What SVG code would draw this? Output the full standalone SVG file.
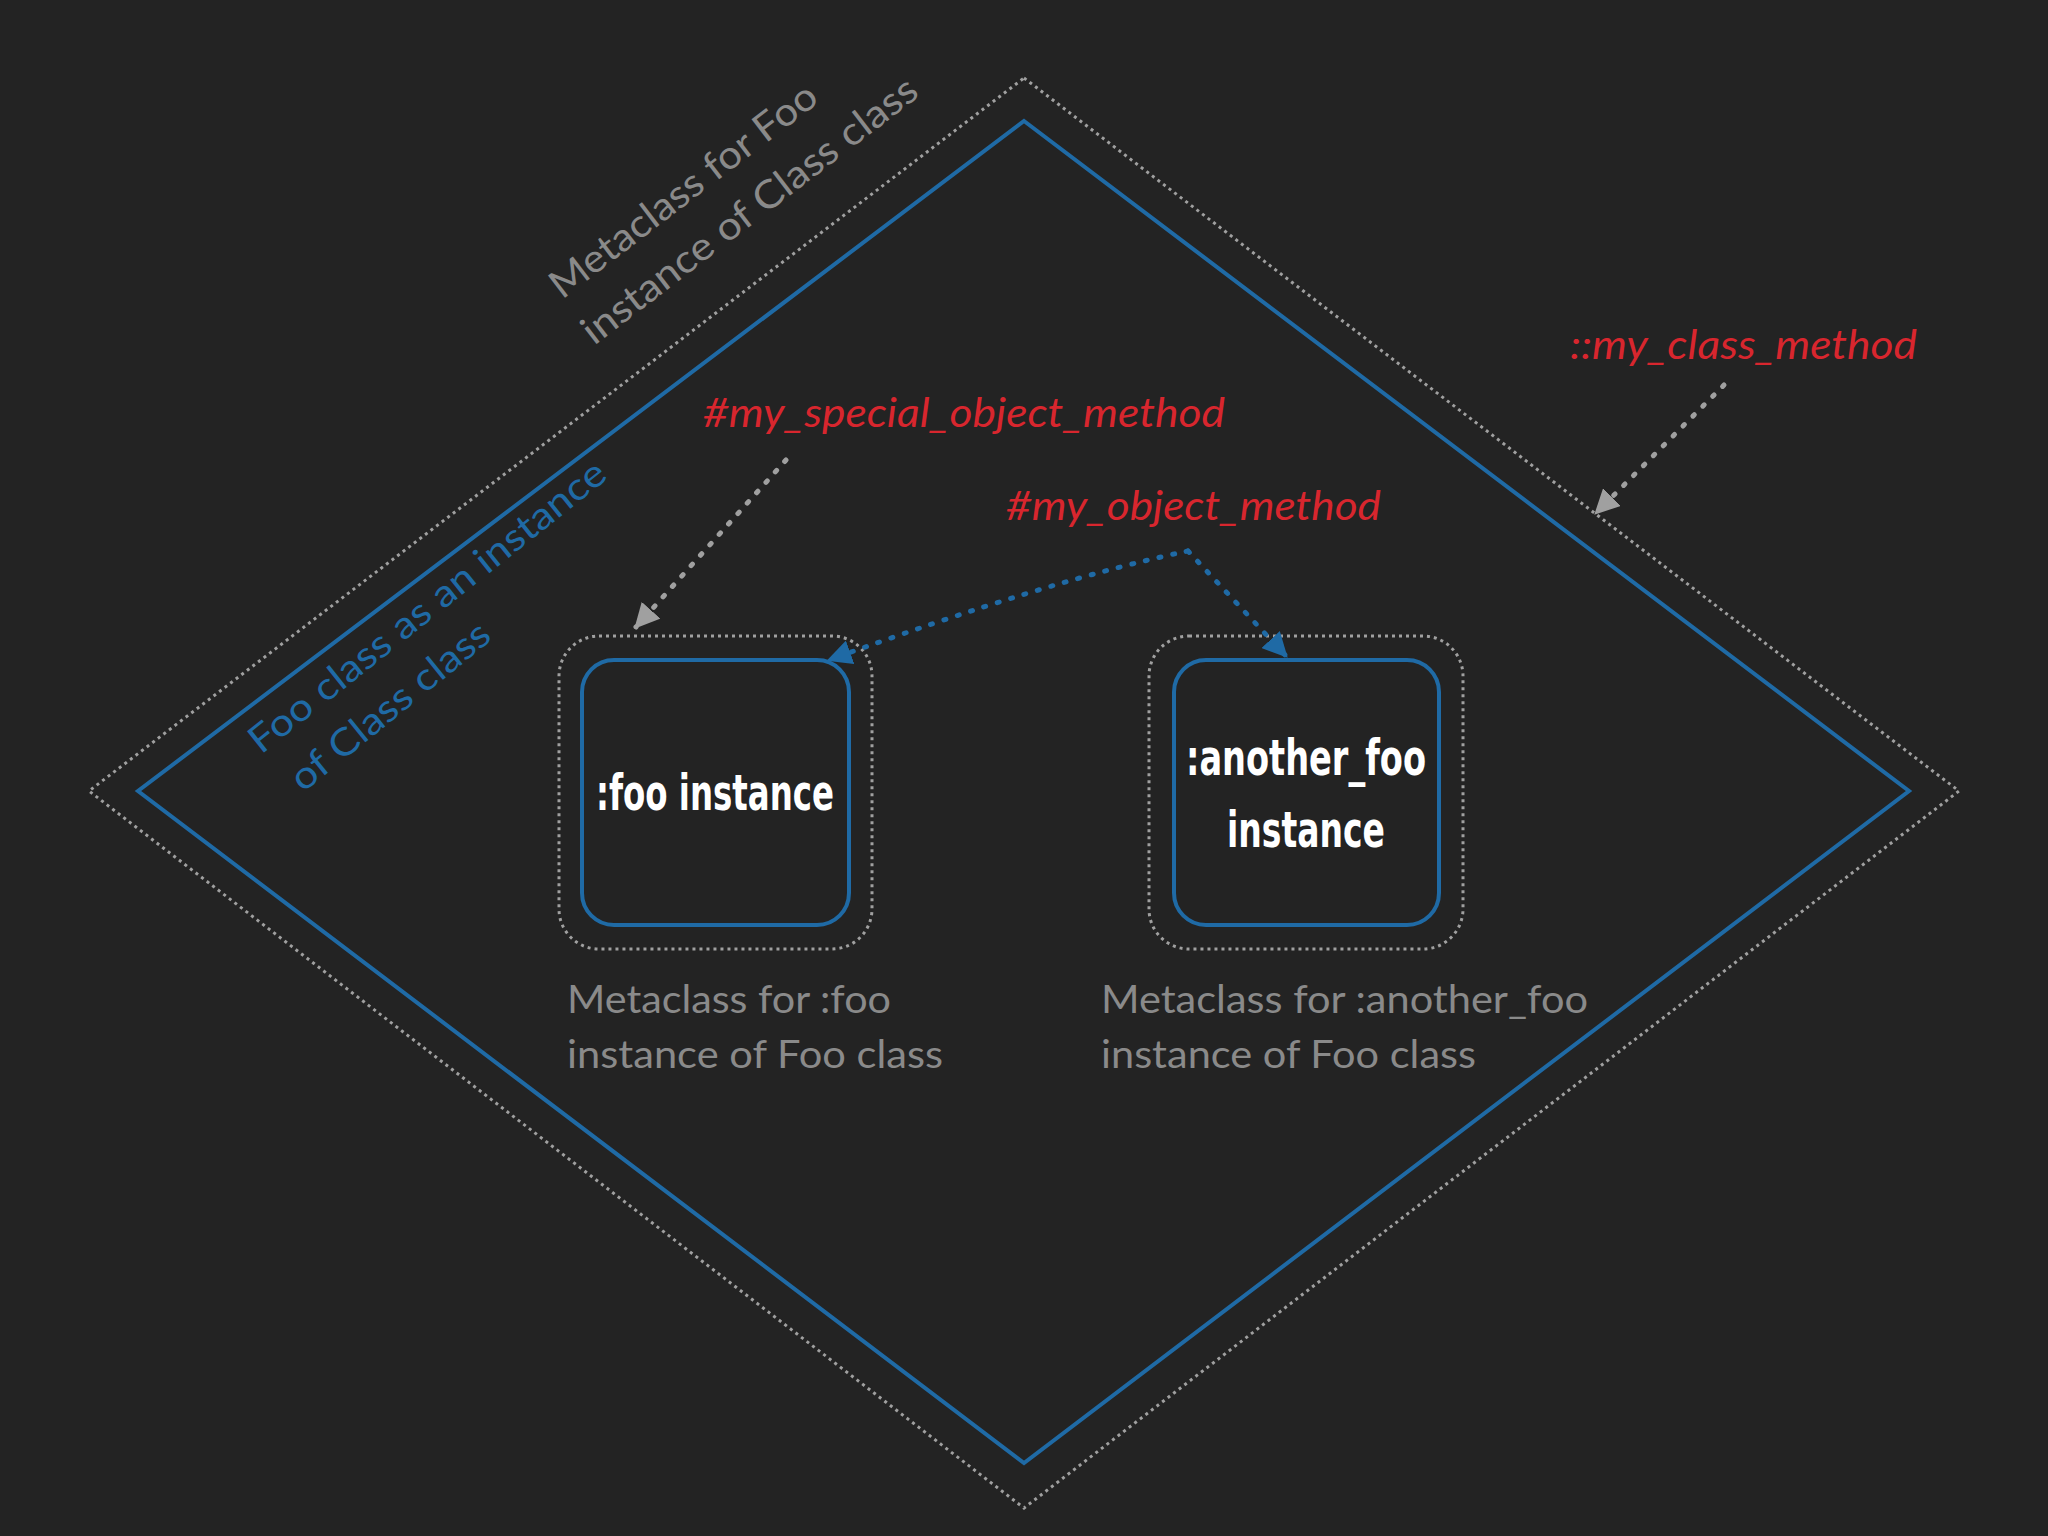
<svg xmlns="http://www.w3.org/2000/svg" width="2048" height="1536" viewBox="0 0 2048 1536">
<defs>
<style>
.dot{fill:none;stroke:#a0a0a0;stroke-width:3;stroke-dasharray:3 4}
.blue{fill:none;stroke:#1f6aa5;stroke-width:4}
.box{fill:#232323;stroke:#1f6aa5;stroke-width:4}
.node{font-family:"DejaVu Sans",sans-serif;font-stretch:condensed;font-weight:bold;font-size:50px;fill:#ffffff;text-anchor:middle}
.lab{font-family:"Lato","Open Sans",sans-serif;font-size:39px;fill:#8a8a8a}
.red{font-family:"Lato","Open Sans",sans-serif;font-style:italic;font-size:40px;fill:#d8262e}
.bl{font-family:"Lato","Open Sans",sans-serif;font-size:38px;fill:#1f6aa5}
.ga{fill:none;stroke:#a0a0a0;stroke-width:5;stroke-dasharray:2 12;stroke-linecap:round}
.ba{fill:none;stroke:#1f6aa5;stroke-width:5;stroke-dasharray:2 12;stroke-linecap:round}
</style>
<marker id="mg" viewBox="0 0 10 10" refX="9" refY="5" markerWidth="5" markerHeight="5" orient="auto" markerUnits="strokeWidth"><path d="M0,0L10,5L0,10z" fill="#a0a0a0"/></marker>
<marker id="mb" viewBox="0 0 10 10" refX="9" refY="5" markerWidth="5" markerHeight="5" orient="auto" markerUnits="strokeWidth"><path d="M0,0L10,5L0,10z" fill="#1f6aa5"/></marker>
</defs>
<rect width="2048" height="1536" fill="#232323"/>
<g id="metaclass-foo">
<polygon class="dot" points="1024,78 1959,791 1024,1508 89,791"/>
<polygon class="blue" points="1024,121 1909,791 1024,1463 138,791"/>
<g transform="translate(562,300) rotate(-37.5)"><text class="lab" x="0" y="0" textLength="326" lengthAdjust="spacingAndGlyphs">Metaclass for Foo</text></g>
<g transform="translate(594,346) rotate(-37.5)"><text class="lab" x="0" y="0" textLength="412" lengthAdjust="spacingAndGlyphs">instance of Class class</text></g>
<g transform="translate(261,755) rotate(-38.5)"><text class="bl" x="0" y="0" textLength="445" lengthAdjust="spacingAndGlyphs">Foo class as an instance</text></g>
<g transform="translate(303,793) rotate(-39)"><text class="bl" x="0" y="0" textLength="245" lengthAdjust="spacingAndGlyphs">of Class class</text></g>
</g>
<g id="foo">
<rect class="dot" x="559" y="636" width="313" height="313" rx="40"/>
<rect class="box" x="582" y="660" width="267" height="265" rx="32"/>
<text class="node" x="715" y="810" textLength="238" lengthAdjust="spacingAndGlyphs">:foo instance</text>
<text class="lab" x="567" y="1013" textLength="324" lengthAdjust="spacingAndGlyphs">Metaclass for :foo</text>
<text class="lab" x="567" y="1068" textLength="376" lengthAdjust="spacingAndGlyphs">instance of Foo class</text>
</g>
<g id="another">
<rect class="dot" x="1149" y="636" width="314" height="313" rx="40"/>
<rect class="box" x="1174" y="660" width="265" height="265" rx="32"/>
<text class="node" x="1306" y="775" textLength="240" lengthAdjust="spacingAndGlyphs">:another_foo</text>
<text class="node" x="1306" y="847" textLength="158" lengthAdjust="spacingAndGlyphs">instance</text>
<text class="lab" x="1101" y="1013" textLength="487" lengthAdjust="spacingAndGlyphs">Metaclass for :another_foo</text>
<text class="lab" x="1101" y="1068" textLength="375" lengthAdjust="spacingAndGlyphs">instance of Foo class</text>
</g>
<g id="labels">
<text class="red" x="703" y="427" textLength="522" lengthAdjust="spacingAndGlyphs">#my_special_object_method</text>
<text class="red" x="1006" y="520" textLength="375" lengthAdjust="spacingAndGlyphs">#my_object_method</text>
<text class="red" x="1570" y="359" textLength="347" lengthAdjust="spacingAndGlyphs">::my_class_method</text>
</g>
<g id="connectors">
<path class="ga" d="M786,460L636,627" marker-end="url(#mg)"/>
<path class="ga" d="M1724,385L1596,513" marker-end="url(#mg)"/>
<path class="ba" d="M1188,551L1286,656" marker-end="url(#mb)"/>
<path class="ba" d="M1188,551Q1050,580 829,660" marker-end="url(#mb)"/>
</g>
</svg>
